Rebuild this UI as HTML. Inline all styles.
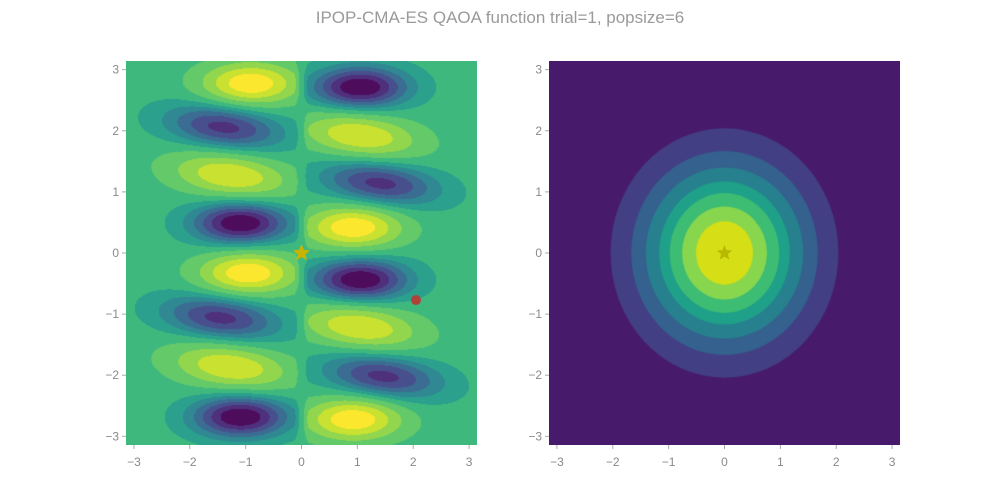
<!DOCTYPE html>
<html><head><meta charset="utf-8">
<style>
body{margin:0;background:#fff;width:1000px;height:500px;overflow:hidden;position:relative;font-family:"Liberation Sans",sans-serif}
.t{position:absolute;color:#8a8a8a;font-size:12px}
canvas{position:absolute}
</style></head>
<body>
<div class="t" style="left:0;width:1000px;top:8px;text-align:center;font-size:17px;color:#9a9a9a">IPOP-CMA-ES QAOA function trial=1, popsize=6</div>
<canvas id="left" width="351" height="384" style="left:126px;top:61px"></canvas>
<canvas id="right" width="351" height="384" style="left:549px;top:61px"></canvas>
<svg id="ov" width="1000" height="500" style="position:absolute;left:0;top:0"></svg>
<script>
// Blob data: x, y, amplitude
const blobX=[-0.91,-1.39,-1.27,-1.09,-0.96,-1.45,-1.27,-1.09, 1.05,1.05,1.41,0.93,1.05,1.05,1.46,0.93];
const blobY=[2.77,2.06,1.27,0.49,-0.33,-1.06,-1.86,-2.68, 2.71,1.92,1.14,0.42,-0.44,-1.21,-2.02,-2.72];
const blobA=[1,-0.75,0.8,-1,1,-0.75,0.8,-1, -1,0.8,-0.75,1,-1,0.8,-0.75,1];
const ringRx=[2.04,1.67,1.41,1.17,0.98,0.76,0.51];
const ringRy=[2.04,1.67,1.40,1.17,0.98,0.76,0.52];
const ringCol=['#433f85','#34618d','#27808e','#1fa088','#3dbc74','#88d64e','#d6df16'];
const ticks=[-3,-2,-1,0,1,2,3];
const starPt=[0,0], redPt=[2.05,-0.77];

const PI=Math.PI;
const L={x0:126,x1:477,y0:61,y1:445}, R={x0:549,x1:900,y0:61,y1:445};
function sx(p,v){return p.x0+(v+PI)/(2*PI)*(p.x1-p.x0);}
function sy(p,v){return p.y1-(v+PI)/(2*PI)*(p.y1-p.y0);}
const vir=[[68,1,84],[72,35,116],[64,67,135],[52,94,141],[41,120,142],[32,144,140],[34,167,132],[68,190,112],[121,209,81],[189,223,38],[253,231,37]];
function vcol(t){t=Math.max(0,Math.min(1,t));const f=t*10,i=Math.min(9,Math.floor(f)),r=f-i;return vir[i].map((c,k)=>Math.round(c+(vir[i+1][k]-c)*r));}

// left field
(function(){
 const c=document.getElementById('left'),g=c.getContext('2d'),W=c.width,H=c.height,img=g.createImageData(W,H);
 for(let j=0;j<H;j++)for(let i=0;i<W;i++){
  const x=-PI+(i+0.5)/W*2*PI, y=PI-(j+0.5)/H*2*PI;
  let v=0;
  for(let b=0;b<blobX.length;b++){
   if(Math.sign(x)!==Math.sign(blobX[b]))continue;
   const dx=x-blobX[b], dy=y-blobY[b];
   const tilted=Math.abs(blobA[b])<0.9;
   const ddy=dy+(tilted?0.1*dx:0);
   const sxx=tilted?0.72:0.6, syy=tilted?0.25:0.24;
   v+=blobA[b]*Math.exp(-(dx*dx)/(2*sxx*sxx)-(ddy*ddy)/(2*syy*syy));
  }
  v*=Math.min(1,Math.abs(x)/0.12);
  v=Math.max(-1,Math.min(1,v*1.1));
  let q=v<0?Math.round(v*6)/6:Math.round(v*4)/4;
  const t=q<0?0.66+0.66*q:0.66+0.34*q;
  const col=vcol(t),k=(j*W+i)*4;
  img.data[k]=col[0]*0.95+12;img.data[k+1]=col[1]*0.95+12;img.data[k+2]=col[2]*0.95+12;img.data[k+3]=255;
 }
 g.putImageData(img,0,0);
})();
// right field
(function(){
 const c=document.getElementById('right'),g=c.getContext('2d');
 g.fillStyle='#481a6c';g.fillRect(0,0,c.width,c.height);
 for(let r=0;r<ringRx.length;r++){
  g.fillStyle=ringCol[r];g.beginPath();
  g.ellipse(sx(R,0)-R.x0,sy(R,0)-R.y0,ringRx[r]*(R.x1-R.x0)/(2*PI),ringRy[r]*(R.y1-R.y0)/(2*PI),0,0,2*PI);g.fill();
 }
})();
const ov=document.getElementById('ov'),NS='http://www.w3.org/2000/svg';
function mk(tag,attrs,txt){const e=document.createElementNS(NS,tag);for(const k in attrs)e.setAttribute(k,attrs[k]);if(txt!==undefined)e.textContent=txt;ov.appendChild(e);return e;}
function star(cx,cy,r,fill){let p=[];for(let k=0;k<10;k++){const a=-PI/2+k*PI/5,rr=k%2?r*0.45:r;p.push((cx+rr*Math.cos(a)).toFixed(1)+','+(cy+rr*Math.sin(a)).toFixed(1));}return mk('polygon',{points:p.join(' '),fill:fill});}
[['left',L],['right',R]].forEach(([nm,p])=>{
 ticks.forEach(v=>{
  const x=sx(p,v),y=sy(p,v);
  let e=mk('line',{x1:x,x2:x,y1:p.y1,y2:p.y1+4,stroke:'#aaa'});
  
  e=mk('text',{x:x,y:p.y1+21,'text-anchor':'middle','font-size':12,fill:'#8a8a8a','font-family':'Liberation Sans'},v<0?'\u2212'+(-v):String(v));
  
  e=mk('line',{x1:p.x0-4,x2:p.x0,y1:y,y2:y,stroke:'#aaa'});
  
  e=mk('text',{x:p.x0-7,y:y+4,'text-anchor':'end','font-size':12,fill:'#8a8a8a','font-family':'Liberation Sans'},v<0?'\u2212'+(-v):String(v));
  
 });
});
let s=star(sx(L,starPt[0]),sy(L,starPt[1]),9,'#c8b400');

s=star(sx(R,starPt[0]),sy(R,starPt[1]),8,'#b8b800');

const rp=mk('circle',{cx:sx(L,redPt[0]),cy:sy(L,redPt[1]),r:5,fill:'#b0423a'});

</script>
</body></html>
